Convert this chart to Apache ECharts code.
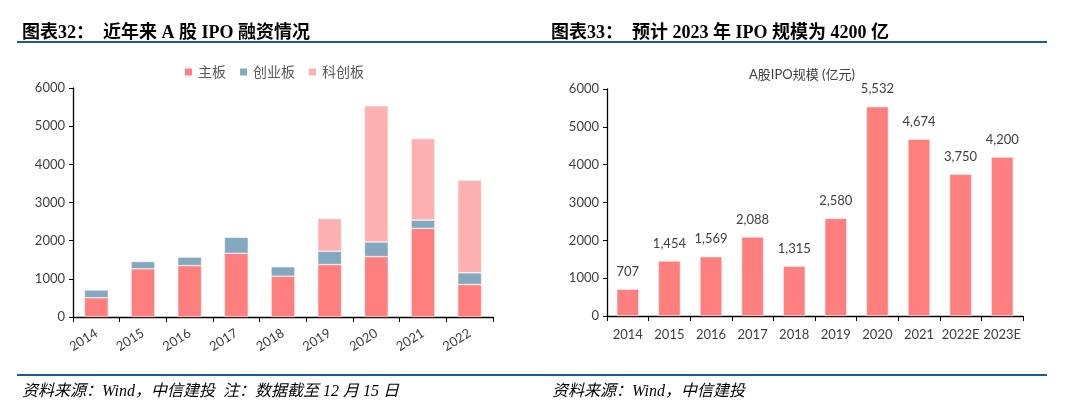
<!DOCTYPE html>
<html>
<head>
<meta charset="utf-8">
<script src="https://cdn.jsdelivr.net/npm/echarts@6/dist/echarts.min.js"></script>
<style>
html,body{margin:0;padding:0;background:#fff;}
#c{width:1080px;height:406px;}
</style>
</head>
<body>
<div id="c"></div>
<script>
// Left chart data (亿元)
const years1 = ['2014','2015','2016','2017','2018','2019','2020','2021','2022'];
const mainBoard = [505, 1261, 1348, 1670, 1070, 1374, 1583, 2322, 852];
const gemBoard = [202, 193, 221, 418, 245, 348, 382, 217, 305];
const starBoard = [null, null, null, null, null, 858, 3567, 2135, 2426];
const seriesNames1 = ['主板', '创业板', '科创板'];

// Right chart data (亿元)
const years2 = ['2014','2015','2016','2017','2018','2019','2020','2021','2022E','2023E'];
const ipoScale = [707, 1454, 1569, 2088, 1315, 2580, 5532, 4674, 3750, 4200];

const yTicks = [0, 1000, 2000, 3000, 4000, 5000, 6000];

const labelFont = "Lato, 'Noto Sans CJK SC', sans-serif";
const headFont = "'Liberation Serif', 'Noto Sans CJK SC', serif";
const txtColor = '#404040';

const chart = echarts.init(document.getElementById('c'));

function yAx(gi) {
  return {
    type: 'value', gridIndex: gi, min: yTicks[0], max: yTicks[yTicks.length - 1], interval: 1000,
    axisLine: { show: true, lineStyle: { color: '#000', width: 1.3 } },
    axisTick: { show: true, length: 4, lineStyle: { color: '#000' } },
    splitLine: { show: false },
    axisLabel: { color: txtColor, fontSize: 13, fontFamily: labelFont, margin: 8, formatter: v => String(v) }
  };
}

const option = {
  backgroundColor: '#fff',
  animation: false,
  title: [
    { text: '图表32：  近年来 A 股 IPO 融资情况', left: 17, top: 19,
      textStyle: { fontSize: 18, fontWeight: 'bold', color: '#000', fontFamily: headFont } },
    { text: '图表33：  预计 2023 年 IPO 规模为 4200 亿', left: 546, top: 19,
      textStyle: { fontSize: 18, fontWeight: 'bold', color: '#000', fontFamily: headFont } },
    { text: 'A股IPO规模 (亿元)', left: 797, top: 63, textAlign: 'center',
      textStyle: { fontSize: 13, fontWeight: 'normal', color: txtColor, fontFamily: labelFont } },
    { text: '资料来源：Wind，中信建投  注：数据截至 12 月 15 日', left: 17, top: 379,
      textStyle: { fontSize: 16, fontWeight: 'normal', fontStyle: 'italic', color: '#000', fontFamily: headFont } },
    { text: '资料来源：Wind，中信建投', left: 547, top: 379,
      textStyle: { fontSize: 16, fontWeight: 'normal', fontStyle: 'italic', color: '#000', fontFamily: headFont } }
  ],
  graphic: [
    { type: 'rect', shape: { x: 17, y: 41, width: 523, height: 2 }, style: { fill: '#1F5C8E' } },
    { type: 'rect', shape: { x: 540, y: 41, width: 507, height: 2 }, style: { fill: '#1F5C8E' } },
    { type: 'rect', shape: { x: 17, y: 374, width: 523, height: 2 }, style: { fill: '#1F5C8E' } },
    { type: 'rect', shape: { x: 540, y: 374, width: 507, height: 2 }, style: { fill: '#1F5C8E' } }
  ],
  legend: {
    data: seriesNames1, left: 178, top: 60, itemWidth: 9, itemHeight: 9, itemGap: 12,
    icon: 'rect',
    textStyle: { color: '#595959', fontSize: 14, fontFamily: labelFont }
  },
  grid: [
    { left: 73, right: 587, top: 88, bottom: 89 },
    { left: 607, right: 57, top: 89, bottom: 90 }
  ],
  xAxis: [
    { type: 'category', gridIndex: 0, data: years1,
      axisLine: { show: true, lineStyle: { color: '#000', width: 1.3 } },
      axisTick: { show: true, length: 5, lineStyle: { color: '#000' } },
      axisLabel: { color: txtColor, fontSize: 13, fontFamily: labelFont, rotate: 32, margin: 15, interval: 0 } },
    { type: 'category', gridIndex: 1, data: years2,
      axisLine: { show: true, lineStyle: { color: '#000', width: 1.3 } },
      axisTick: { show: true, length: 5, lineStyle: { color: '#000' } },
      axisLabel: { color: txtColor, fontSize: 13, fontFamily: labelFont, margin: 12, interval: 0 } }
  ],
  yAxis: [yAx(0), yAx(1)],
  series: [
    { name: seriesNames1[0], type: 'bar', stack: 'a', xAxisIndex: 0, yAxisIndex: 0, data: mainBoard,
      barWidth: '51%', itemStyle: { color: '#FF7F7F', borderColor: '#fff', borderWidth: 0.5 } },
    { name: seriesNames1[1], type: 'bar', stack: 'a', xAxisIndex: 0, yAxisIndex: 0, data: gemBoard,
      barWidth: '51%', itemStyle: { color: '#84A8C0', borderColor: '#fff', borderWidth: 0.5 } },
    { name: seriesNames1[2], type: 'bar', stack: 'a', xAxisIndex: 0, yAxisIndex: 0, data: starBoard,
      barWidth: '51%', itemStyle: { color: '#FFB1B1', borderColor: '#fff', borderWidth: 0.5 } },
    { name: 'A股IPO规模', type: 'bar', xAxisIndex: 1, yAxisIndex: 1, data: ipoScale,
      barWidth: '53%', itemStyle: { color: '#FF7F7F', borderColor: '#fff', borderWidth: 0.5 },
      label: { show: true, position: 'top', distance: 11, color: txtColor, fontSize: 13, fontFamily: labelFont,
        formatter: p => p.value.toLocaleString('en-US') } }
  ]
};
chart.setOption(option);
</script>
</body>
</html>
